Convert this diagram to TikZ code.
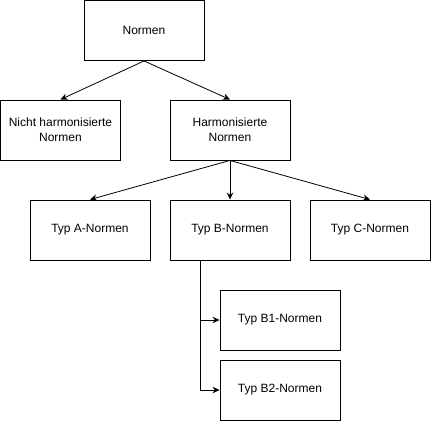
\documentclass[tikz,border=0pt]{standalone}
\usepackage{fontspec}
\setmainfont{Liberation Sans}
\usetikzlibrary{arrows.meta}
\begin{document}
\begin{tikzpicture}[x=1pt, y=-1pt,
                    nbox/.style = {shape = rectangle,
                                   draw = black,
                                   line width = 0.9pt,
                                   minimum width = 120pt,
                                   minimum height = 60pt,
                                   inner sep = 2pt,
                                   align = center,
                                   font = \fontsize{12}{15}\selectfont},
                    link/.style = {-{Stealth[length=7pt,width=6.5pt]},
                                   line width = 0.8pt}]
		\useasboundingbox (0,0) rectangle (431,421);
		\node[nbox] (norm) at (144,30.5) {Normen};
		\node[nbox] (nicht) at (60.5,130) {Nicht harmonisierte\\Normen};
		\node[nbox] (harm) at (230,130) {Harmonisierte\\Normen};
		\node[nbox] (typA) at (90,230) {Typ A-Normen};
		\node[nbox] (typB) at (230,230) {Typ B-Normen};
		\node[nbox] (typC) at (370,230) {Typ C-Normen};
		\node[nbox] (typBa) at (280,320) {Typ B1-Normen};
		\node[nbox] (typBb) at (280,390) {Typ B2-Normen};
		\draw[link] (norm.south) -- (nicht.north);
		\draw[link] (norm.south) -- (harm.north);
		\draw[link] (harm.south) -- (typA.north);
		\draw[link] (harm.south) -- (typB.north);
		\draw[link] (harm.south) -- (typC.north);
		\draw[link] ([xshift=-30pt]typB.south) |- (typBa.west);
		\draw[link] ([xshift=-30pt]typB.south) |- (typBb.west);
	\end{tikzpicture}
\end{document}
